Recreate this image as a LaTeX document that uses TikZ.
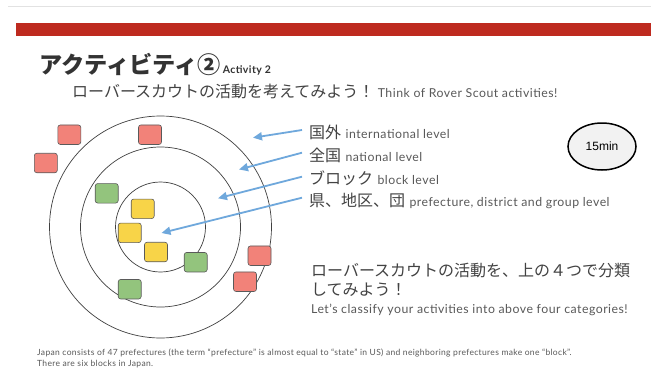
\documentclass[tikz,border=0pt]{standalone}
\usepackage{fontspec}
\setmainfont{Lato}[LetterSpace=4]
\newfontfamily\jp{Noto Sans CJK JP}
\newfontfamily\arialf{Liberation Sans}
\usetikzlibrary{arrows.meta,shapes.geometric}
\definecolor{barred}{HTML}{BE2A1F}
\definecolor{topline}{HTML}{E2E2E2}
\definecolor{titlegray}{HTML}{333333}
\definecolor{textgray}{HTML}{434343}
\definecolor{entext}{HTML}{595959}
\definecolor{sqborder}{HTML}{5A5A5A}
\definecolor{sqred}{HTML}{F28279}
\definecolor{sqgreen}{HTML}{93C47D}
\definecolor{sqyellow}{HTML}{F8D448}
\definecolor{arrblue}{HTML}{6FA8DC}
\definecolor{ringgray}{HTML}{404040}
\tikzset{
  txt/.style={anchor=west, inner sep=0pt, text=textgray},
  jpfont/.style={font=\jp\fontsize{16}{19}\selectfont},
  enfont/.style={font=\fontsize{12.3}{14}\selectfont, text=entext},
  sqbox/.style={draw=sqborder, line width=0.6pt, rounded corners=2.5pt, minimum width=23pt, minimum height=19.5pt, inner sep=0pt},
  redbox/.style={sqbox, fill=sqred},
  greenbox/.style={sqbox, fill=sqgreen},
  yellowbox/.style={sqbox, fill=sqyellow},
  ring/.style={circle, draw=ringgray, line width=0.7pt, inner sep=0pt},
  arr/.style={draw=arrblue, line width=1.8pt, -{Triangle[length=9pt,width=8pt]}}
}
\begin{document}
\begin{tikzpicture}[x=1pt,y=-1pt]
\useasboundingbox[fill=white] (0,0) rectangle (651,372);
% header
\draw[topline, line width=0.8pt] (8,6) -- (651,6);
\fill[barred] (16,23) rectangle (651,36);
% title
\node[txt, text=titlegray, font=\jp\bfseries\fontsize{23.2}{27}\selectfont] (title) at (39,64) {アクティビティ②};
\node[anchor=base west, inner sep=0pt, text=titlegray, font=\bfseries\fontsize{10.5}{13}\selectfont] (act) at ([xshift=1.5pt]title.base east) {Activity 2};
\node[txt, jpfont] (sub) at (72,91.5) {ローバースカウトの活動を考えてみよう！};
\node[anchor=base west, inner sep=0pt, enfont] (suben) at ([xshift=3pt]sub.base east) {Think of Rover Scout activities!};
% rings
\node[ring, minimum size=222pt] (outer) at (160.5,227) {};
\node[ring, minimum size=160pt] (middle) at (160.5,227) {};
\node[ring, minimum size=90pt] (inner) at (160.5,227) {};
% squares
\node[redbox] (r1) at (69.3,134.7) {};
\node[redbox] (r2) at (150,134.7) {};
\node[redbox] (r3) at (45.8,163) {};
\node[greenbox] (g1) at (106.7,193.3) {};
\node[yellowbox] (y1) at (142.7,208.8) {};
\node[yellowbox] (y2) at (129.7,232.8) {};
\node[yellowbox] (y3) at (156,252) {};
\node[greenbox] (g2) at (195.7,262.2) {};
\node[greenbox] (g3) at (129.7,289.2) {};
\node[redbox] (r4) at (259.5,255.7) {};
\node[redbox] (r5) at (245,281.7) {};
% level labels
\node[txt, jpfont] (l1) at (309,132.5) {国外};
\node[anchor=base west, inner sep=0pt, enfont] at ([xshift=4pt]l1.base east) {international level};
\node[txt, jpfont] (l2) at (309,155) {全国};
\node[anchor=base west, inner sep=0pt, enfont] at ([xshift=4pt]l2.base east) {national level};
\node[txt, jpfont] (l3) at (309,178) {ブロック};
\node[anchor=base west, inner sep=0pt, enfont] at ([xshift=4pt]l3.base east) {block level};
\node[txt, jpfont] (l4) at (309,200) {県、地区、団};
\node[anchor=base west, inner sep=0pt, enfont] at ([xshift=4pt]l4.base east) {prefecture, district and group level};
% arrows
\coordinate (a1s) at (302,130);   \coordinate (a1e) at (253,137.7);
\coordinate (a2s) at (302,152.7); \coordinate (a2e) at (239,169.5);
\coordinate (a3s) at (302,176.7); \coordinate (a3e) at (218,198.3);
\coordinate (a4s) at (302,197.7); \coordinate (a4e) at (161.5,233);
\draw[arr] (a1s) -- (a1e);
\draw[arr] (a2s) -- (a2e);
\draw[arr] (a3s) -- (a3e);
\draw[arr] (a4s) -- (a4e);
% timer
\node[ellipse, draw=black, line width=1.5pt, fill=black!5, minimum width=68pt, minimum height=47pt, inner sep=0pt, font=\arialf\fontsize{12}{14}\selectfont] (time) at (602,146.5) {15min};
% classification text
\node[txt, jpfont] (c1) at (311,270) {ローバースカウトの活動を、上の４つで分類};
\node[txt, jpfont] (c2) at (311,289.5) {してみよう！};
\node[txt, enfont] (c3) at (311,310) {Let's classify your activities into above four categories!};
% footnote
\node[txt, text=entext, font=\fontsize{8.5}{12}\selectfont] (f1) at (37,353) {Japan consists of 47 prefectures (the term ``prefecture'' is almost equal to ``state'' in US) and neighboring prefectures make one ``block''.};
\node[txt, text=entext, font=\fontsize{8.5}{12}\selectfont] (f2) at (37,364.5) {There are six blocks in Japan.};
\end{tikzpicture}
\end{document}
